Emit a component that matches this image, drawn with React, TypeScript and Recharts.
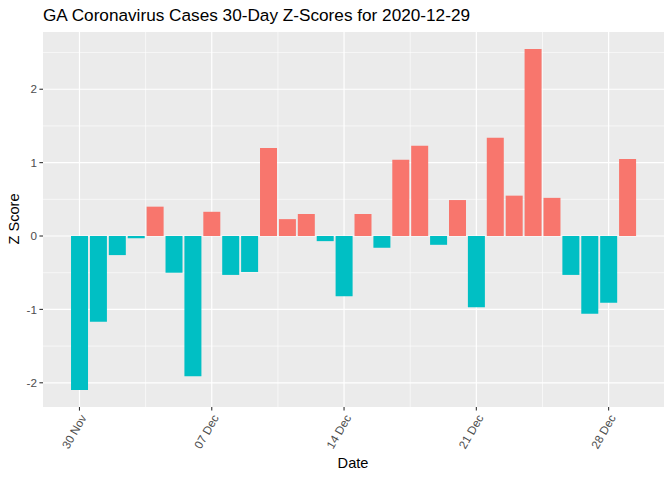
import React from "react";
import { BarChart, Bar, XAxis, YAxis, CartesianGrid, Cell } from "recharts";

// one bar per day, 30 Nov 2020 .. 29 Dec 2020
const days = [
  "2020-11-30", "2020-12-01", "2020-12-02", "2020-12-03", "2020-12-04",
  "2020-12-05", "2020-12-06", "2020-12-07", "2020-12-08", "2020-12-09",
  "2020-12-10", "2020-12-11", "2020-12-12", "2020-12-13", "2020-12-14",
  "2020-12-15", "2020-12-16", "2020-12-17", "2020-12-18", "2020-12-19",
  "2020-12-20", "2020-12-21", "2020-12-22", "2020-12-23", "2020-12-24",
  "2020-12-25", "2020-12-26", "2020-12-27", "2020-12-28", "2020-12-29",
];
const zScores = [
  -2.1, -1.17, -0.26, -0.03, 0.4, -0.5, -1.91, 0.33, -0.53, -0.49,
  1.2, 0.23, 0.3, -0.07, -0.82, 0.3, -0.16, 1.04, 1.23, -0.12,
  0.49, -0.97, 1.34, 0.55, 2.55, 0.52, -0.53, -1.06, -0.91, 1.05,
];

// x ticks are day offsets from 30 Nov
const xTicks = [0, 7, 14, 21, 28];
const xTickLabels = ["30 Nov", "07 Dec", "14 Dec", "21 Dec", "28 Dec"];
const xMinor = [3.5, 10.5, 17.5, 24.5];
const yTicks = [-2, -1, 0, 1, 2];
const yMinor = [-1.5, -0.5, 0.5, 1.5, 2.5];

const POS = "#F8766D";
const NEG = "#00BFC4";
const FONT = '"Liberation Sans", Arial, sans-serif';

const data = days.map((d, i) => ({ date: d, day: i, z: zScores[i] }));

function DateTick(props: any) {
  const { x, y, payload } = props;
  const idx = xTicks.indexOf(payload.value);
  const label = idx >= 0 ? xTickLabels[idx] : "";
  return (
    <text
      x={x + 4}
      y={y + 3}
      transform={`rotate(-60 ${x + 4} ${y + 3})`}
      textAnchor="end"
      dy="0.35em"
      fontSize={11.7}
      fontFamily={FONT}
      fill="#4D4D4D"
    >
      {label}
    </text>
  );
}

export default function App() {
  return (
    <div style={{ position: "fixed", left: 0, top: 0, width: 672, height: 480, background: "#fff", fontFamily: FONT }}>
      <div style={{ position: "absolute", left: 43, top: 5, fontSize: 17.2, color: "#000", whiteSpace: "nowrap" }}>
        GA Coronavirus Cases 30-Day Z-Scores for 2020-12-29
      </div>
      <div
        style={{
          position: "absolute",
          left: 14,
          top: 219,
          transform: "translate(-50%, -50%) rotate(-90deg)",
          fontSize: 14.6,
          whiteSpace: "nowrap",
        }}
      >
        Z Score
      </div>
      <div style={{ position: "absolute", left: 353, top: 455, transform: "translateX(-50%)", fontSize: 14.6 }}>
        Date
      </div>
      <BarChart
        width={672}
        height={480}
        data={data}
        margin={{ top: 32, right: 8, bottom: 0, left: 0 }}
        barCategoryGap={0}
      >
        <CartesianGrid
          fill="#EBEBEB"
          stroke="#FFFFFF"
          strokeWidth={0.6}
          horizontalValues={yMinor}
          verticalValues={xMinor}
        />
        <CartesianGrid
          stroke="#FFFFFF"
          strokeWidth={1.2}
          horizontalValues={yTicks}
          verticalValues={xTicks}
        />
        <XAxis
          type="number"
          dataKey="day"
          domain={[-1.93, 30.93]}
          allowDataOverflow
          ticks={xTicks}
          interval={0}
          height={73}
          axisLine={false}
          tickSize={3.6}
          tickLine={{ stroke: "#333333", strokeWidth: 1.1 }}
          tick={<DateTick />}
        />
        <YAxis
          type="number"
          domain={[-2.33, 2.78]}
          allowDataOverflow
          ticks={yTicks}
          interval={0}
          width={43}
          axisLine={false}
          tickSize={3.6}
          tickMargin={2.5}
          tickLine={{ stroke: "#333333", strokeWidth: 1.1 }}
          tick={{ fill: "#4D4D4D", fontSize: 11.7, fontFamily: FONT }}
        />
        <Bar dataKey="z" barSize={17} isAnimationActive={false}>
          {data.map((d, i) => (
            <Cell key={i} fill={d.z > 0 ? POS : NEG} />
          ))}
        </Bar>
      </BarChart>
    </div>
  );
}
